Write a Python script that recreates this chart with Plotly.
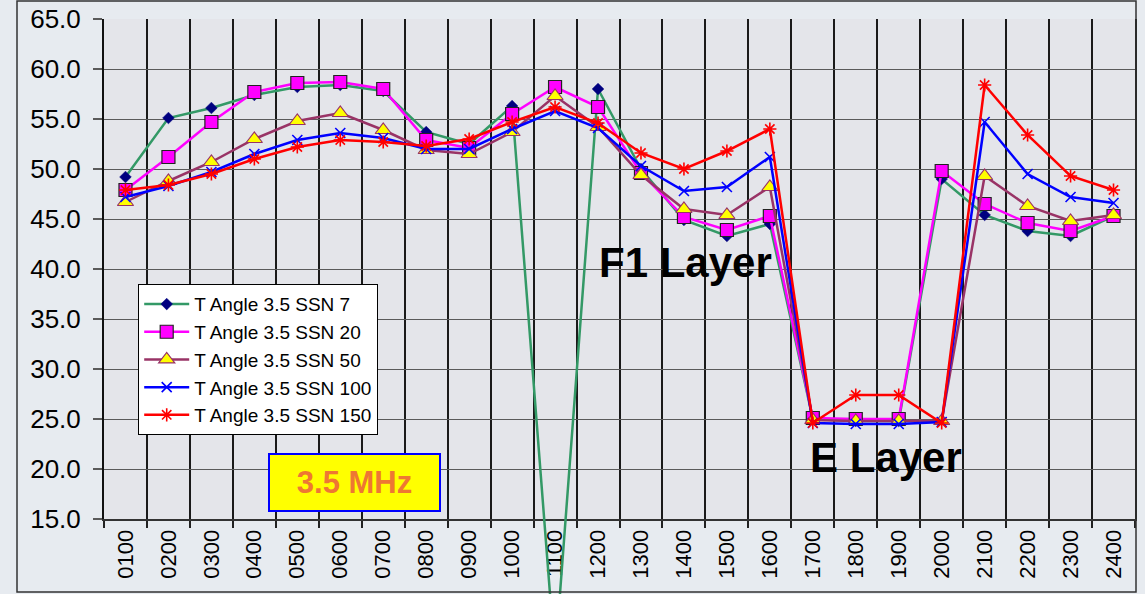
import plotly.graph_objects as go

# ---------------- data ----------------
hours = ["0100", "0200", "0300", "0400", "0500", "0600", "0700", "0800",
         "0900", "1000", "1100", "1200", "1300", "1400", "1500", "1600",
         "1700", "1800", "1900", "2000", "2100", "2200", "2300", "2400"]

ssn7 = [49.2, 55.1, 56.1, 57.4, 58.2, 58.4, 57.8, 53.7, 52.5, 56.3, 1.0, 58.0,
        50.0, 44.9, 43.3, 44.5, 25.0, 24.8, 24.8, 49.0, 45.4, 43.8, 43.3, 45.3]
ssn20 = [47.9, 51.2, 54.7, 57.7, 58.6, 58.7, 58.0, 52.9, 52.1, 55.5, 58.2, 56.2,
         49.6, 45.2, 43.9, 45.3, 25.1, 25.0, 25.0, 49.8, 46.5, 44.6, 43.8, 45.3]
ssn50 = [46.7, 48.8, 50.7, 53.0, 54.8, 55.6, 53.9, 51.9, 51.5, 53.7, 57.3, 54.2,
         49.4, 46.0, 45.4, 48.2, 24.9, 24.8, 24.8, 24.8, 49.3, 46.3, 44.8, 45.4]
ssn100 = [47.2, 48.3, 49.7, 51.5, 52.9, 53.6, 53.1, 52.0, 52.0, 54.0, 55.8, 54.1,
          50.3, 47.8, 48.2, 51.2, 24.6, 24.5, 24.5, 24.7, 54.7, 49.5, 47.2, 46.6]
ssn150 = [47.9, 48.4, 49.5, 51.0, 52.2, 52.9, 52.7, 52.3, 53.0, 54.7, 56.2, 54.6,
          51.6, 50.0, 51.8, 54.0, 24.6, 27.4, 27.4, 24.6, 58.4, 53.4, 49.3, 47.9]

series_names = ["T Angle 3.5 SSN 7", "T Angle 3.5 SSN 20", "T Angle 3.5 SSN 50",
                "T Angle 3.5 SSN 100", "T Angle 3.5 SSN 150"]
series_values = [ssn7, ssn20, ssn50, ssn100, ssn150]

y_min, y_max, y_step = 15, 65, 5

# ---------------- geometry / style ----------------
FONT = "Liberation Sans, Arial, sans-serif"
W, H = 1145, 594
PL, PR, PT, PB = 104, 1135, 19, 519
area_w = PR - PL
area_h = H - PT
px_per_unit = (PB - PT) / (y_max - y_min)
y_dom0 = (H - PB) / area_h
y2_min = y_max - area_h / px_per_unit


def px(x):
    return (x - PL) / area_w


def py(y):
    return (H - y) / area_h


styles = [
    dict(line=dict(color="#339966", width=2.5),
         marker=dict(symbol="diamond", size=9, color="#000080",
                     line=dict(color="#000080", width=0.5))),
    dict(line=dict(color="#ff00ff", width=2.5),
         marker=dict(symbol="square", size=13, color="#ff00ff",
                     line=dict(color="#222222", width=1.2))),
    dict(line=dict(color="#993366", width=2.5),
         marker=dict(symbol="triangle-up", size=14, color="#ffff00",
                     line=dict(color="#993366", width=1.2))),
    dict(line=dict(color="#0000ff", width=2.5),
         marker=dict(symbol="x-thin-open", size=10, color="#0000ff",
                     line=dict(color="#0000ff", width=1.6))),
    dict(line=dict(color="#ff0000", width=2.5),
         marker=dict(symbol="asterisk-open", size=11, color="#ff0000",
                     line=dict(color="#ff0000", width=1.6))),
]

fig = go.Figure()

# invisible helper so the visible category axis knows its categories
fig.add_trace(go.Scatter(x=hours, y=ssn20, mode="markers",
                         marker=dict(opacity=0), showlegend=False,
                         hoverinfo="skip", xaxis="x", yaxis="y"))

for name, vals, st in zip(series_names, series_values, styles):
    fig.add_trace(go.Scatter(x=hours, y=vals, name=name, mode="lines+markers",
                             line=st["line"], marker=st["marker"],
                             xaxis="x2", yaxis="y2"))

fig.update_layout(
    width=W, height=H,
    margin=dict(l=PL, r=W - PR, t=PT, b=0, autoexpand=False),
    paper_bgcolor="#e7ebf0",
    plot_bgcolor="rgba(0,0,0,0)",
    font=dict(family=FONT, color="black"),
    showlegend=True,
    legend=dict(x=px(138), y=py(284), xanchor="left", yanchor="top",
                bgcolor="white", bordercolor="black", borderwidth=1.2,
                font=dict(family=FONT, size=19, color="black"),
                itemwidth=45, tracegroupgap=0),
    xaxis=dict(type="category", domain=[0, 1], anchor="y",
               range=[-0.5, len(hours) - 0.5], tickson="boundaries",
               ticks="outside", ticklen=7, tickwidth=1.5, tickcolor="#222222",
               showgrid=True, gridcolor="#1a1a1a", gridwidth=1.8,
               showline=True, linecolor="#333333", linewidth=2,
               tickangle=-90, tickfont=dict(family=FONT, size=22, color="black"),
               automargin=False, fixedrange=True, zeroline=False),
    yaxis=dict(domain=[y_dom0, 1], anchor="x", range=[y_min, y_max],
               tick0=y_min, dtick=y_step, tickformat=".1f",
               ticks="outside", ticklen=9, tickwidth=1.5, tickcolor="#5a5a5a",
               showgrid=True, gridcolor="#5a5a5a", gridwidth=1.4,
               showline=True, linecolor="#111111", linewidth=2, mirror=True,
               zeroline=False, tickfont=dict(family=FONT, size=26, color="black"),
               ticklabelstandoff=7, automargin=False, fixedrange=True),
    xaxis2=dict(type="category", domain=[0, 1], anchor="y2",
                range=[-0.5, len(hours) - 0.5], visible=False, fixedrange=True),
    yaxis2=dict(domain=[0, 1], anchor="x2", range=[y2_min, y_max],
                visible=False, fixedrange=True),
    shapes=[
        # plot-area fill
        dict(type="rect", xref="paper", yref="paper", x0=0, x1=1,
             y0=y_dom0, y1=1, fillcolor="#e4e5ea", line=dict(width=0),
             layer="below"),
        # outer chart frame
        dict(type="rect", xref="paper", yref="paper", x0=px(17), x1=px(1136),
             y0=py(592), y1=py(1), fillcolor="rgba(0,0,0,0)",
             line=dict(color="#333333", width=1.5), layer="above"),
    ],
    annotations=[
        dict(text="<b>F1 Layer</b>", xref="paper", yref="paper",
             x=px(685), y=py(262), xanchor="center", yanchor="middle",
             showarrow=False, font=dict(family=FONT, size=42, color="black")),
        dict(text="<b>E Layer</b>", xref="paper", yref="paper",
             x=px(886), y=py(458), xanchor="center", yanchor="middle",
             showarrow=False, font=dict(family=FONT, size=42, color="black")),
        dict(text="<b>3.5 MHz</b>", xref="paper", yref="paper",
             x=px(354.5), y=py(482.5), xanchor="center", yanchor="middle",
             showarrow=False, width=167, height=53, borderpad=1,
             bgcolor="#ffff00", bordercolor="#0000ff", borderwidth=2,
             font=dict(family=FONT, size=31, color="#ee7733")),
    ],
)

fig.write_html("out.html",
               config={"displayModeBar": False},
               post_script="document.body.style.margin='0';"
                           "document.body.style.padding='0';")
